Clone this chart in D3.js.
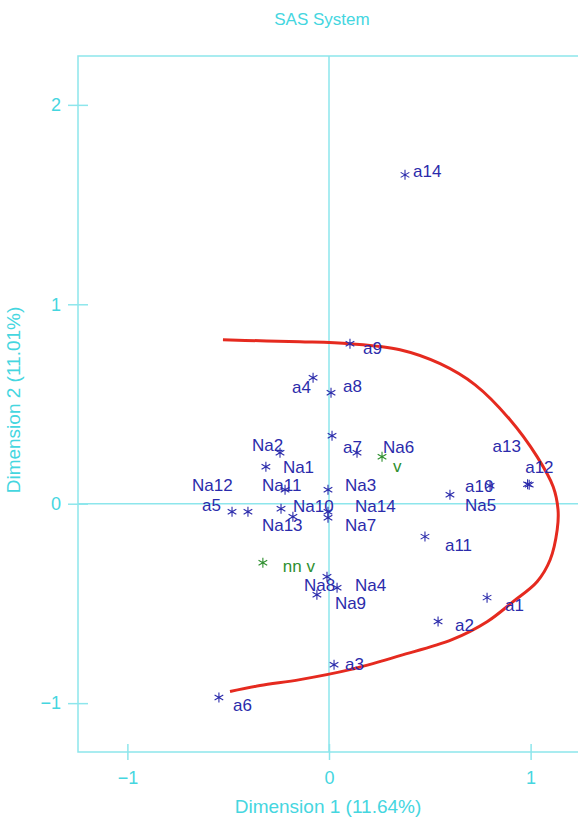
<!DOCTYPE html>
<html>
<head>
<meta charset="utf-8">
<script src="https://cdn.jsdelivr.net/npm/d3@7/dist/d3.min.js"></script>
<style>
  html, body { margin: 0; padding: 0; background: #ffffff; overflow: hidden; }
  svg { display: block; }
</style>
</head>
<body>
<script>
// Correspondence analysis: row/column coordinates on the first two dimensions
const labels = ["a1","a2","a3","a4","a5","a6","a7","a8","a9","a10","a11","a12","a13","a14",
                "Na1","Na2","Na3","Na4","Na5","Na6","Na7","Na8","Na9","Na10","Na11","Na12","Na13","Na14",
                "v","nn v"];
const dim1 = [0.784, 0.541, 0.025, -0.079, -0.481, -0.546, 0.015, 0.010, 0.104, 0.799, 0.476, 0.993, 0.985, 0.377,
              -0.313, -0.243, -0.005, 0.040, 0.600, 0.139, -0.005, -0.010, -0.060, -0.238, -0.218, -0.402, -0.179, -0.005,
              0.263, -0.328];
const dim2 = [-0.471, -0.591, -0.807, 0.632, -0.040, -0.972, 0.341, 0.556, 0.802, 0.090, -0.165, 0.095, 0.098, 1.649,
              0.185, 0.256, 0.070, -0.421, 0.045, 0.256, -0.070, -0.366, -0.456, -0.025, 0.070, -0.040, -0.065, -0.040,
              0.236, -0.296];
// "a" and "Na" are active categories, the others supplementary
const groups = ["act","act","act","act","act","act","act","act","act","act","act","act","act","act",
                "act","act","act","act","act","act","act","act","act","act","act","act","act","act",
                "sup","sup"];

// Label placement relative to each point (pixels)
const labelDx = [18, 17, 11, -21, -30, 14, 11, 12, 13, -25, 20, -4, -35, 8,
                 17, -28, 17, 18, 15, 26, 17, -23, 18, 12, -23, -56, -31, 27,
                 11, 20];
const labelDy = [13, 9, 5, 15, -1, 13, 17, -1, 10, 6, 14, -12, -32, 2,
                 6, -2, 1, 3, 16, 0, 13, 14, 14, 3, 1, -21, 14, 0,
                 15, 9];

// Fitted curve through the configuration
const curveX = [-0.526, -0.342, -0.144, 0.104, 0.352, 0.551, 0.725, 0.898, 1.032, 1.112, 1.136, 1.132,
                1.097, 1.032, 0.913, 0.784, 0.610, 0.352, 0.104, -0.144, -0.342, -0.491];
const curveY = [0.822, 0.817, 0.812, 0.802, 0.772, 0.702, 0.596, 0.421, 0.236, 0.085, -0.030, -0.130,
                -0.281, -0.391, -0.491, -0.592, -0.682, -0.762, -0.832, -0.882, -0.912, -0.942];

const xTicks = [-1, 0, 1];
const yTicks = [-1, 0, 1, 2];
const title = "SAS System";
const xTitle = "Dimension 1 (11.64%)";
const yTitle = "Dimension 2 (11.01%)";

const W = 578, H = 822;
const cyan = "#45d6df";
const lineCyan = "#8de6ec";
const font = "'Liberation Sans', Arial, Helvetica, sans-serif";

const svg = d3.select("body").append("svg").attr("width", W).attr("height", H)
  .style("overflow", "hidden");

const x = d3.scaleLinear().domain([-1.245, 1.245]).range([78, 580]);
const y = d3.scaleLinear().domain([-1.245, 2.245]).range([752, 56]);

// Frame: left, top and bottom edges (the right edge lies outside the page)
const xL = x(-1.245), xR = W, yT = y(2.245), yB = y(-1.245);
svg.append("path")
  .attr("d", `M${xR},${yT}H${xL}V${yB}H${xR}`)
  .attr("fill", "none").attr("stroke", lineCyan).attr("stroke-width", 1.5)
  .attr("stroke-linecap", "butt");

// Reference lines through the origin
svg.append("line")
  .attr("x1", x(0)).attr("x2", x(0)).attr("y1", yT).attr("y2", yB)
  .attr("stroke", lineCyan).attr("stroke-width", 1.5);
svg.append("line")
  .attr("x1", xL).attr("x2", xR).attr("y1", y(0)).attr("y2", y(0))
  .attr("stroke", lineCyan).attr("stroke-width", 1.5);

const fmt = d => (d < 0 ? "\u2212" + Math.abs(d) : String(d));

// Axes with ticks crossing the frame
const gx = svg.append("g").attr("transform", `translate(0,${yB})`)
  .call(d3.axisBottom(x).tickValues(xTicks).tickFormat(fmt).tickSize(8).tickPadding(11));
gx.selectAll(".domain").remove();
gx.selectAll(".tick line").attr("y1", -8).attr("y2", 8).attr("stroke", lineCyan).attr("stroke-width", 1.5);
gx.selectAll(".tick text").attr("fill", cyan).attr("font-size", 18).attr("font-family", font);

const gy = svg.append("g").attr("transform", `translate(${xL},0)`)
  .call(d3.axisLeft(y).tickValues(yTicks).tickFormat(fmt).tickSize(8).tickPadding(9));
gy.selectAll(".domain").remove();
gy.selectAll(".tick line").attr("x1", -10).attr("x2", 10).attr("stroke", lineCyan).attr("stroke-width", 1.5);
gy.selectAll(".tick text").attr("fill", cyan).attr("font-size", 18).attr("font-family", font);

// Titles
svg.append("text").attr("x", 322).attr("y", 25).attr("text-anchor", "middle")
  .attr("fill", cyan).attr("font-size", 17).attr("font-family", font).text(title);
svg.append("text").attr("x", 328).attr("y", 813).attr("text-anchor", "middle")
  .attr("fill", cyan).attr("font-size", 19).attr("font-family", font).text(xTitle);
svg.append("text").attr("transform", `translate(20,${y(0.52)}) rotate(-90)`).attr("text-anchor", "middle")
  .attr("fill", cyan).attr("font-size", 19).attr("font-family", font).text(yTitle);

// Curve
const curvePts = curveX.map((v, i) => [x(v), y(curveY[i])]);
svg.append("path")
  .attr("d", d3.line().curve(d3.curveCatmullRom.alpha(0.5))(curvePts))
  .attr("fill", "none").attr("stroke", "#e52a1f").attr("stroke-width", 3);

// Points and labels
const pts = labels.map((l, i) => ({ label: l, d1: dim1[i], d2: dim2[i], g: groups[i], dx: labelDx[i], dy: labelDy[i] }));
const colour = g => (g === "sup" ? "#2f8f2f" : "#2b2bab");
const star = d3.symbol().type(d3.symbolAsterisk).size(70);

const gp = svg.append("g");
gp.selectAll("path.pt").data(pts).join("path").attr("class", "pt")
  .attr("d", star)
  .attr("transform", d => `translate(${x(d.d1)},${y(d.d2)})`)
  .attr("fill", "none").attr("stroke", d => colour(d.g)).attr("stroke-width", 1.1);

gp.selectAll("text.lbl").data(pts).join("text").attr("class", "lbl")
  .attr("x", d => x(d.d1) + d.dx).attr("y", d => y(d.d2) + d.dy)
  .attr("fill", d => colour(d.g)).attr("font-size", 17).attr("font-family", font)
  .text(d => d.label);
</script>
</body>
</html>
